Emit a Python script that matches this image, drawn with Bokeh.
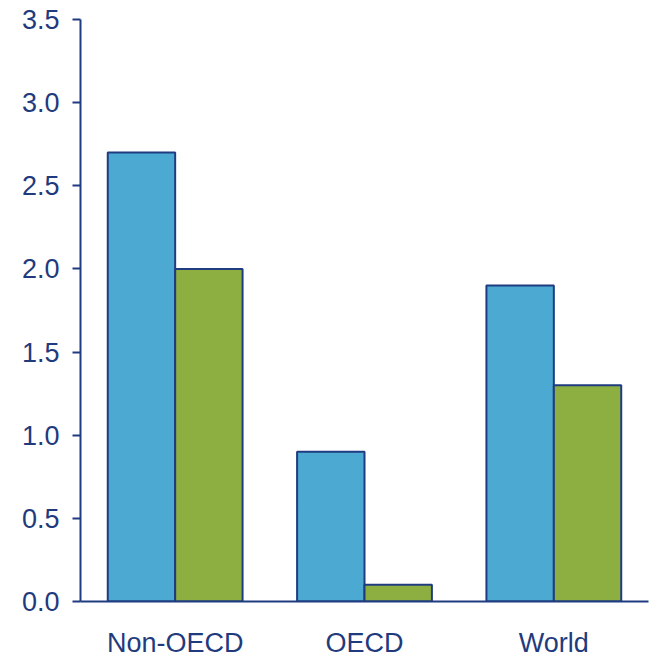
from bokeh.plotting import figure
from bokeh.models import ColumnDataSource, FactorRange, Range1d, FixedTicker, CustomJSTickFormatter
from bokeh.transform import dodge
from bokeh.embed import file_html
from bokeh.resources import INLINE

categories = ["Non-OECD", "OECD", "World"]
series_blue = [2.7, 0.9, 1.9]
series_green = [2.0, 0.1, 1.3]
y_ticks = [0.0, 0.5, 1.0, 1.5, 2.0, 2.5, 3.0, 3.5]

NAVY = "#1F3C80"
TEXT = "#1F3B7D"

source = ColumnDataSource(data=dict(cat=categories, blue=series_blue, green=series_green))

p = figure(
    width=651, height=660,
    x_range=FactorRange(factors=categories, range_padding=0),
    y_range=Range1d(0, 3.5),
    output_backend="svg", toolbar_location=None,
    min_border_left=80, min_border_top=19, min_border_right=3, min_border_bottom=57,
)
p.outline_line_color = None
p.xgrid.visible = False
p.ygrid.visible = False

w = 0.356
p.vbar(x=dodge("cat", -w / 2, range=p.x_range), top="blue", width=w, source=source,
       fill_color="#4CA9D2", line_color=NAVY, line_width=2)
p.vbar(x=dodge("cat", w / 2, range=p.x_range), top="green", width=w, source=source,
       fill_color="#8DAE41", line_color=NAVY, line_width=2)

p.yaxis.ticker = FixedTicker(ticks=y_ticks)
p.yaxis.formatter = CustomJSTickFormatter(code="return tick.toFixed(1);")
for ax in (p.xaxis[0], p.yaxis[0]):
    ax.axis_line_color = NAVY
    ax.axis_line_width = 2
    ax.major_tick_line_color = NAVY
    ax.major_tick_line_width = 2
    ax.minor_tick_line_color = None
    ax.major_label_text_color = TEXT
    ax.major_label_text_font = "Liberation Sans"
    ax.major_label_text_font_size = "27px"

p.yaxis.major_tick_in = 0
p.yaxis.major_tick_out = 8
p.yaxis.major_label_standoff = 13
p.xaxis.major_tick_in = 0
p.xaxis.major_tick_out = 0
p.xaxis.major_label_standoff = 26

open("out.html", "w").write(file_html(p, INLINE))
